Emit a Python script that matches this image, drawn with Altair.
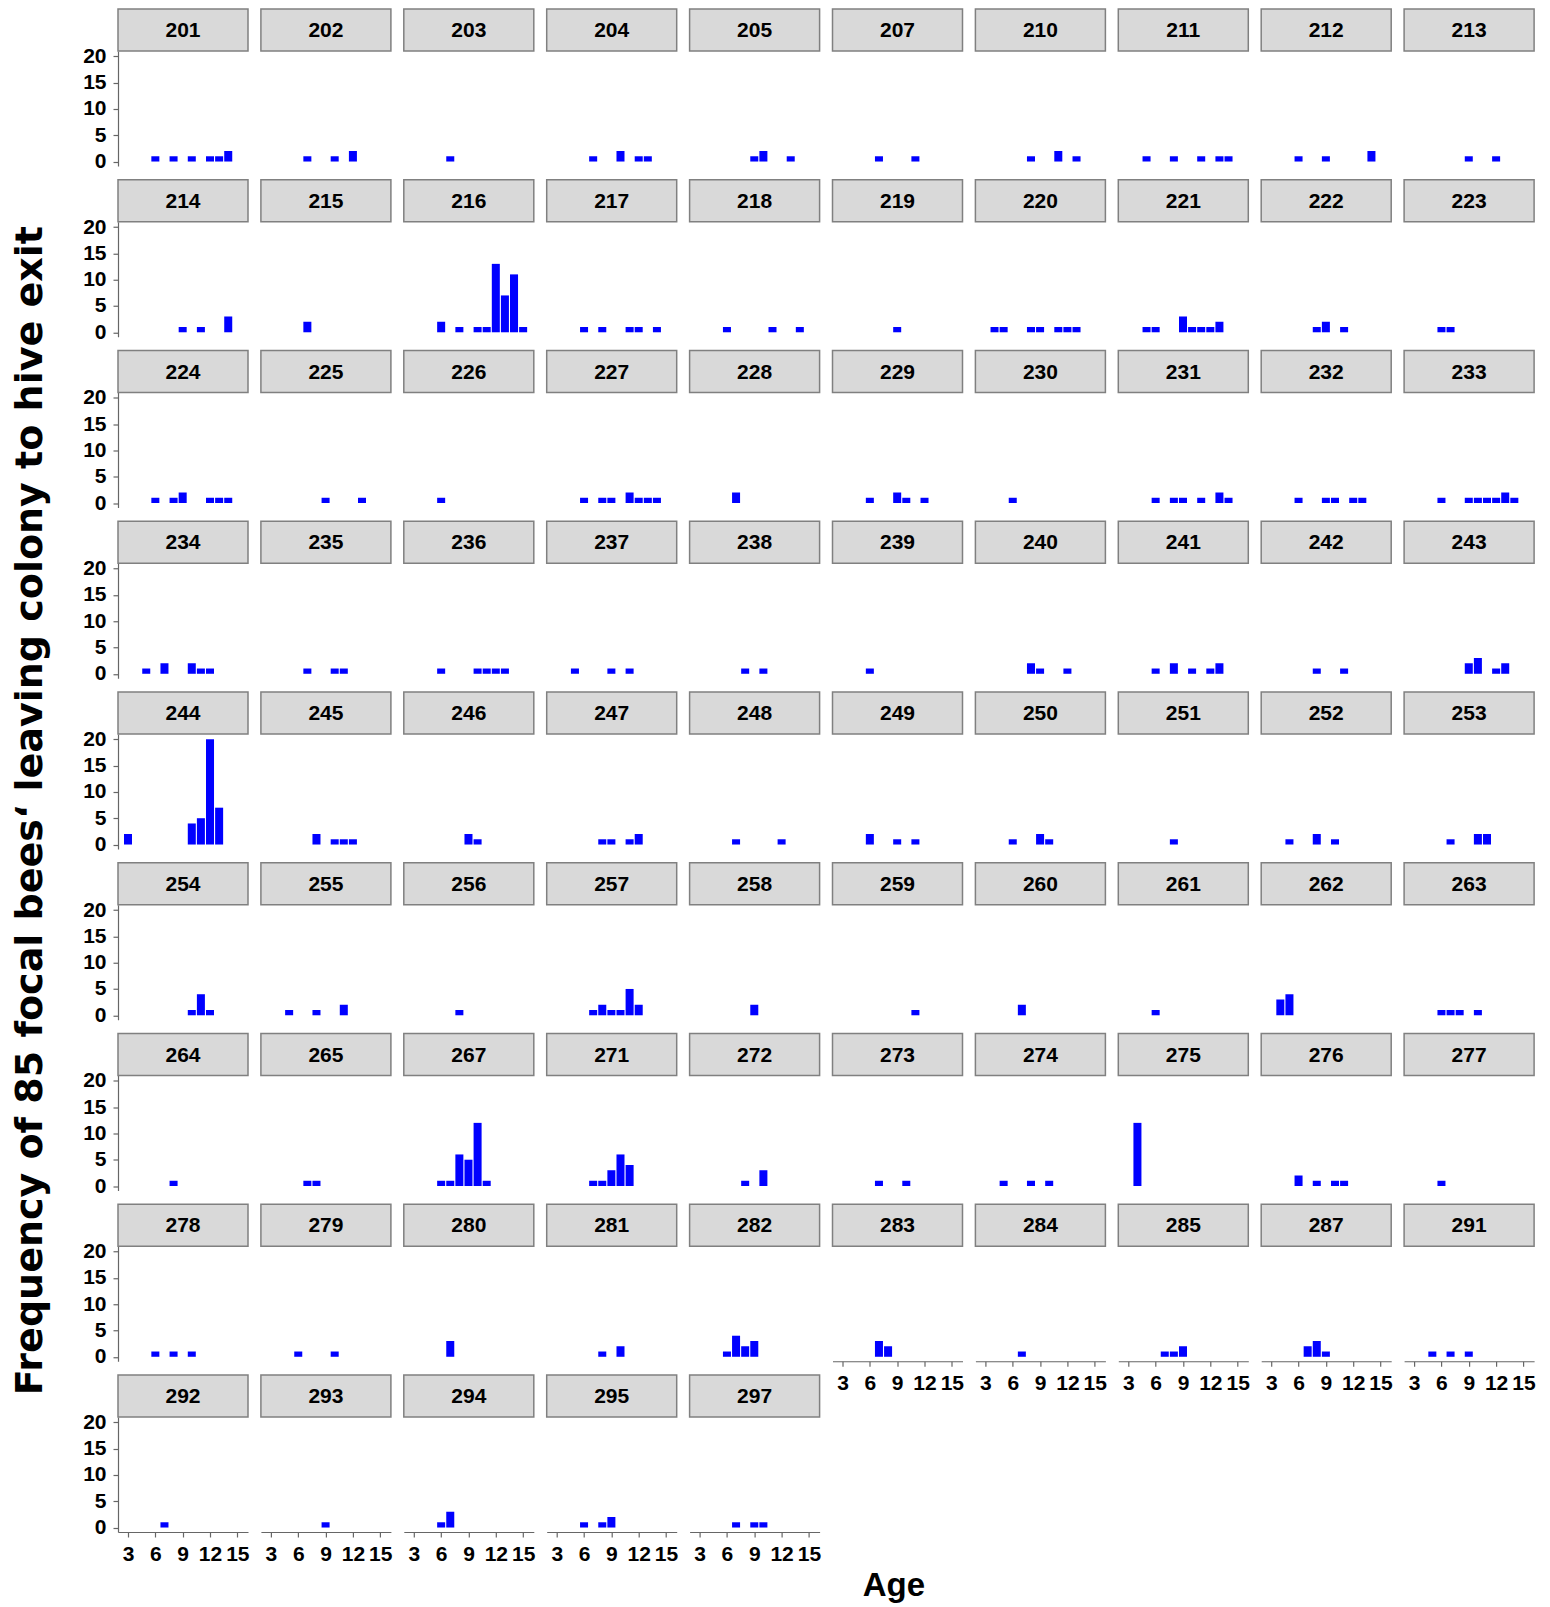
import altair as alt
import pandas as pd

bees = [201, 202, 203, 204, 205, 207, 210, 211, 212, 213,
        214, 215, 216, 217, 218, 219, 220, 221, 222, 223,
        224, 225, 226, 227, 228, 229, 230, 231, 232, 233,
        234, 235, 236, 237, 238, 239, 240, 241, 242, 243,
        244, 245, 246, 247, 248, 249, 250, 251, 252, 253,
        254, 255, 256, 257, 258, 259, 260, 261, 262, 263,
        264, 265, 267, 271, 272, 273, 274, 275, 276, 277,
        278, 279, 280, 281, 282, 283, 284, 285, 287, 291,
        292, 293, 294, 295, 297]

ages = [
    [6, 8, 10, 12, 13, 14], [7, 10, 12], [7], [7, 10, 12, 13], [9, 10, 13],
    [7, 11], [8, 11, 13], [5, 8, 11, 13, 14], [6, 9, 14], [9, 12],
    [9, 11, 14], [7], [6, 8, 10, 11, 12, 13, 14, 15], [6, 8, 11, 12, 14], [6, 11, 14],
    [9], [4, 5, 8, 9, 11, 12, 13], [5, 6, 9, 10, 11, 12, 13], [8, 9, 11], [6, 7],
    [6, 8, 9, 12, 13, 14], [9, 13], [6], [6, 8, 9, 11, 12, 13, 14], [7],
    [6, 9, 10, 12], [6], [6, 8, 9, 11, 13, 14], [6, 9, 10, 12, 13], [6, 9, 10, 11, 12, 13, 14],
    [5, 7, 10, 11, 12], [7, 10, 11], [6, 10, 11, 12, 13], [5, 9, 11], [8, 10],
    [6], [8, 9, 12], [6, 8, 10, 12, 13], [8, 11], [9, 10, 12, 13],
    [3, 10, 11, 12, 13], [8, 10, 11, 12], [9, 10], [8, 9, 11, 12], [7, 12],
    [6, 9, 11], [6, 9, 10], [8], [5, 8, 10], [7, 10, 11],
    [10, 11, 12], [5, 8, 11], [8], [7, 8, 9, 10, 11, 12], [9],
    [11], [7], [6], [4, 5], [6, 7, 8, 10],
    [8], [7, 8], [6, 7, 8, 9, 10, 11], [7, 8, 9, 10, 11], [8, 10],
    [7, 10], [5, 8, 10], [4], [6, 8, 10, 11], [6],
    [6, 8, 10], [6, 10], [7], [8, 10], [6, 7, 8, 9],
    [7, 8], [7], [7, 8, 9], [7, 8, 9], [5, 7, 9],
    [7], [9], [6, 7], [6, 8, 9], [7, 9, 10],
]

counts = [
    [1, 1, 1, 1, 1, 2], [1, 1, 2], [1], [1, 2, 1, 1], [1, 2, 1],
    [1, 1], [1, 2, 1], [1, 1, 1, 1, 1], [1, 1, 2], [1, 1],
    [1, 1, 3], [2], [2, 1, 1, 1, 13, 7, 11, 1], [1, 1, 1, 1, 1], [1, 1, 1],
    [1], [1, 1, 1, 1, 1, 1, 1], [1, 1, 3, 1, 1, 1, 2], [1, 2, 1], [1, 1],
    [1, 1, 2, 1, 1, 1], [1, 1], [1], [1, 1, 1, 2, 1, 1, 1], [2],
    [1, 2, 1, 1], [1], [1, 1, 1, 1, 2, 1], [1, 1, 1, 1, 1], [1, 1, 1, 1, 1, 2, 1],
    [1, 2, 2, 1, 1], [1, 1, 1], [1, 1, 1, 1, 1], [1, 1, 1], [1, 1],
    [1], [2, 1, 1], [1, 2, 1, 1, 2], [1, 1], [2, 3, 1, 2],
    [2, 4, 5, 20, 7], [2, 1, 1, 1], [2, 1], [1, 1, 1, 2], [1, 1],
    [2, 1, 1], [1, 2, 1], [1], [1, 2, 1], [1, 2, 2],
    [1, 4, 1], [1, 1, 2], [1], [1, 2, 1, 1, 5, 2], [2],
    [1], [2], [1], [3, 4], [1, 1, 1, 1],
    [1], [1, 1], [1, 1, 6, 5, 12, 1], [1, 1, 3, 6, 4], [1, 3],
    [1, 1], [1, 1, 1], [12], [2, 1, 1, 1], [1],
    [1, 1, 1], [1, 1], [3], [1, 2], [1, 4, 2, 3],
    [3, 2], [1], [1, 1, 2], [2, 3, 1], [1, 1, 1],
    [1], [1], [1, 3], [1, 1, 2], [1, 1, 1],
]

x_ticks = [3, 6, 9, 12, 15]
y_ticks = [0, 5, 10, 15, 20]
y_title = "Frequency of 85 focal bees\u2018 leaving colony to hive exit"
x_title = "Age"

rows = []
for b, a_list, c_list in zip(bees, ages, counts):
    for a, c in zip(a_list, c_list):
        rows.append({"bee": b, "age": a, "n": c})
df = pd.DataFrame(rows)

W, H, HDR = 130, 115, 42
NCOL = 10
FONT = "Liberation Sans"
XDOM = [1.9, 16.17]
YDOM = [-0.85, 21.0]


def panel(i, b):
    col = i % NCOL
    last_in_col = i + NCOL >= len(bees)
    if last_in_col:
        x_enc = alt.X("x0:Q", scale=alt.Scale(domain=XDOM, nice=False, zero=False),
                      axis=alt.Axis(values=x_ticks, title=None))
    else:
        x_enc = alt.X("x0:Q", scale=alt.Scale(domain=XDOM, nice=False, zero=False),
                      axis=None)
    if col == 0:
        y_enc = alt.Y("n:Q", scale=alt.Scale(domain=YDOM, nice=False, zero=False),
                      axis=alt.Axis(values=y_ticks, title=None))
    else:
        y_enc = alt.Y("n:Q", scale=alt.Scale(domain=YDOM, nice=False, zero=False),
                      axis=None)

    hdr = alt.Chart().transform_aggregate(
        total="sum(n)", groupby=["bee"]
    ).mark_rect(fill="#d9d9d9", stroke="#808080", strokeWidth=1.5).encode(
        x=alt.value(0), x2=alt.value(W), y=alt.value(-HDR), y2=alt.value(0)
    )
    txt = alt.Chart().transform_aggregate(
        total="sum(n)", groupby=["bee"]
    ).mark_text(font=FONT, fontSize=21, fontWeight="bold", color="black",
                baseline="middle", align="center").encode(
        text="bee:N", x=alt.value(W / 2), y=alt.value(-HDR / 2 + 1)
    )
    bars = alt.Chart().transform_calculate(
        x0="datum.age - 0.44", x1="datum.age + 0.44", y0="0"
    ).mark_bar(color="#0000ff").encode(
        x=x_enc, x2="x1:Q", y=y_enc, y2="y0:Q",
    )
    return alt.layer(hdr, txt, bars).transform_filter(
        alt.datum.bee == b
    ).properties(width=W, height=H)


columns = []
for c in range(NCOL):
    idx = list(range(c, len(bees), NCOL))
    columns.append(alt.vconcat(*[panel(i, bees[i]) for i in idx],
                               spacing=55.75, bounds="flush"))

grid = alt.hconcat(*columns, spacing=9.9).properties(
    title=alt.TitleParams(text=x_title, orient="bottom", anchor="middle",
                          fontSize=33, font=FONT, fontWeight="bold", color="black",
                          offset=6, dx=85)
)

chart = alt.hconcat(grid, data=df).properties(
    padding={"left": 3, "top": 0, "right": 0, "bottom": 0},
    title=alt.TitleParams(text=y_title, orient="left", anchor="middle",
                          fontSize=38, font="DejaVu Sans", fontWeight="bold",
                          color="black", offset=33, dx=-5)
).configure_view(strokeWidth=0).configure_axis(
    labelFont=FONT, labelFontSize=21, labelFontWeight="bold", labelColor="black",
    domainColor="#666666", tickColor="#666666", tickSize=5, grid=False,
    labelPadding=7, domainWidth=1.2, tickWidth=1.2,
).configure_axisX(labelFlush=False, labelOverlap=False, labelPadding=6)

chart.save("out.html", embed_options={"renderer": "svg", "actions": False})
